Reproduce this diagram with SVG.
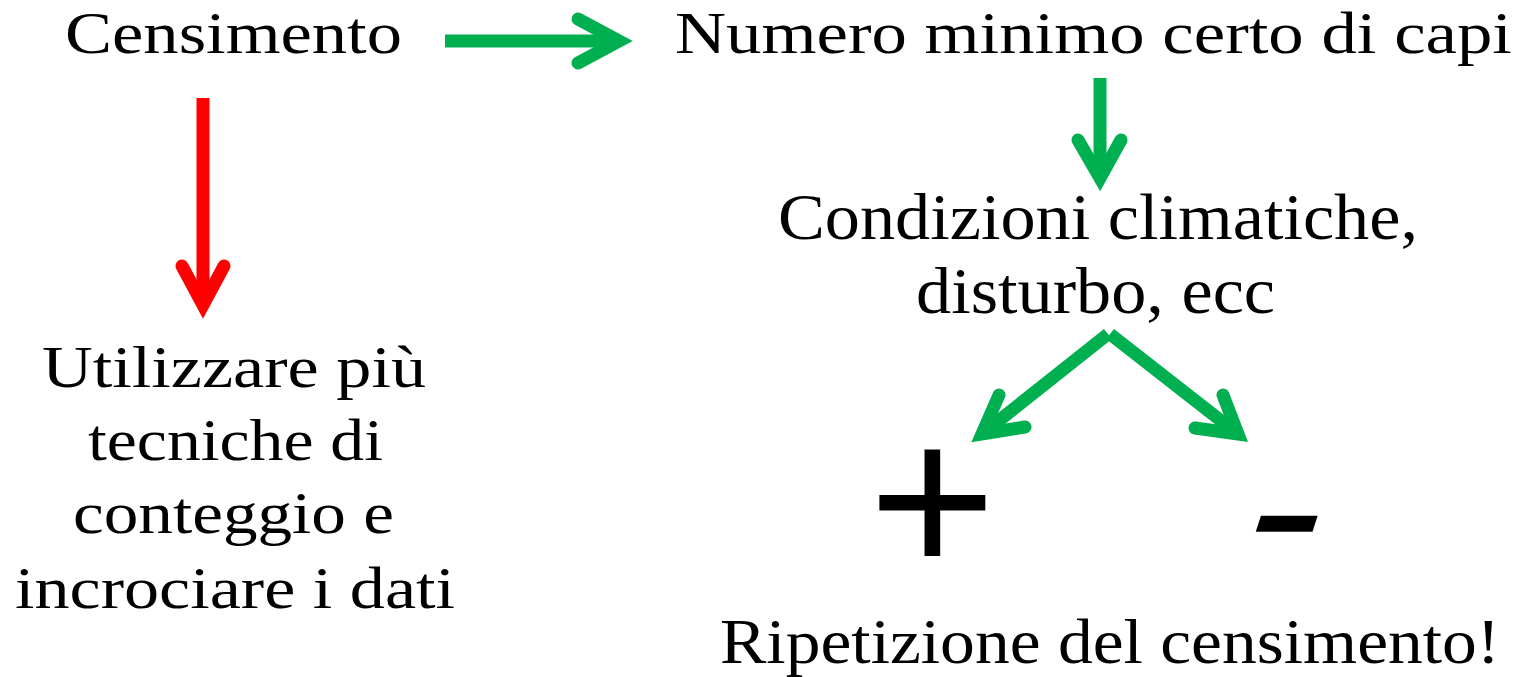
<svg xmlns="http://www.w3.org/2000/svg" width="1521" height="677" viewBox="0 0 1521 677">
<style>
.t{font-family:"Liberation Serif","Times New Roman",serif;font-size:59px;fill:#000}
.c{font-family:"Liberation Serif","Times New Roman",serif;font-size:66px;fill:#000}
.s{font-family:"Liberation Sans",Arial,sans-serif;font-size:218px;fill:#000}
.m{font-family:"Liberation Sans",Arial,sans-serif;font-size:145px;font-weight:bold;fill:#000}
.g{stroke:#00B050;stroke-width:13;fill:none;stroke-linecap:round;stroke-linejoin:miter}
.r{stroke:#FF0000;stroke-width:13;fill:none;stroke-linecap:round;stroke-linejoin:miter}
.sh{stroke-linecap:butt}
</style>
<rect width="1521" height="677" fill="#fff"/>
<g id="connectors">
  <line class="g sh" x1="445" y1="41" x2="618" y2="41"/>
  <polyline class="g" points="578,19 619,41 578,63"/>
  <line class="r sh" x1="203" y1="98" x2="203" y2="305"/>
  <polyline class="r" points="182,266 203,305 224,266"/>
  <line class="g sh" x1="1100" y1="78" x2="1100" y2="178"/>
  <polyline class="g" points="1078,140 1100,178 1121,140"/>
  <line class="g sh" x1="1108" y1="334" x2="982" y2="434"/>
  <polyline class="g" points="999,395 982,434 1025,427"/>
  <line class="g sh" x1="1110" y1="334" x2="1238" y2="434"/>
  <polyline class="g" points="1223,395 1238,434 1195,428"/>
</g>
<g id="n-censimento"><text class="t" x="65" y="53" textLength="337" lengthAdjust="spacingAndGlyphs">Censimento</text></g>
<g id="n-numero"><text class="t" x="675" y="53" textLength="837" lengthAdjust="spacingAndGlyphs">Numero minimo certo di capi</text></g>
<g id="n-utilizzare">
  <text class="t" x="42" y="387" textLength="384" lengthAdjust="spacingAndGlyphs">Utilizzare più</text>
  <text class="t" x="88" y="460" textLength="295" lengthAdjust="spacingAndGlyphs">tecniche di</text>
  <text class="t" x="73" y="533" textLength="321" lengthAdjust="spacingAndGlyphs">conteggio e</text>
  <text class="t" x="15" y="608" textLength="440" lengthAdjust="spacingAndGlyphs">incrociare i dati</text>
</g>
<g id="n-condizioni">
  <text class="c" x="778" y="239" textLength="640" lengthAdjust="spacingAndGlyphs">Condizioni climatiche,</text>
  <text class="c" x="916" y="313" textLength="359" lengthAdjust="spacingAndGlyphs">disturbo, ecc</text>
</g>
<g id="n-plus"><text class="s" x="932.5" y="575" text-anchor="middle">+</text></g>
<g id="n-minus"><text class="m" transform="translate(1271,572) skewX(-18) scale(0.78,1)" x="0" y="0" text-anchor="middle">−</text></g>
<g id="n-ripetizione"><text class="c" x="720" y="663" style="font-size:64px" textLength="780" lengthAdjust="spacingAndGlyphs">Ripetizione del censimento!</text></g>
</svg>
